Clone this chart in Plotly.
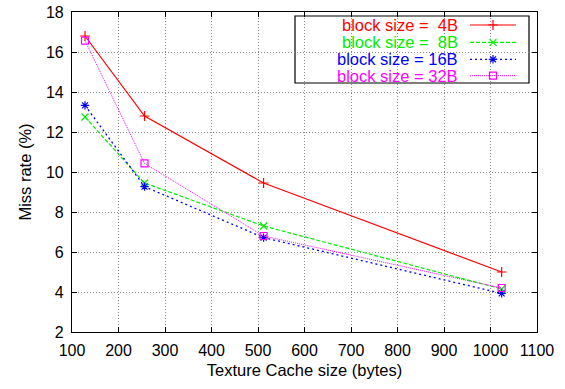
import plotly.graph_objects as go

cache_size = [128, 256, 512, 1024]
miss_4B = [16.8, 12.8, 9.45, 5.0]
miss_8B = [12.75, 9.45, 7.3, 4.15]
miss_16B = [13.33, 9.27, 6.72, 3.93]
miss_32B = [16.57, 10.43, 6.8, 4.2]

labels = ["block size =\u00a0\u00a04B", "block size =\u00a0\u00a08B", "block size = 16B", "block size = 32B"]
colors = ["#ff0000", "#00ee00", "#0000ff", "#ff00ff"]
dashes = ["solid", "4px,2px", "2px,3px", "1px,1px"]
symbols = ["cross-thin-open", "x-thin-open", "asterisk-open", "square-open"]
widths = [1.2, 1.2, 1.3, 1.0]
x_ticks = list(range(100, 1101, 100))
y_ticks = list(range(2, 19, 2))

series = [miss_4B, miss_8B, miss_16B, miss_32B]

W, H = 565, 389
L, R, T, B = 72, 28, 12, 57
pw, ph = W - L - R, H - T - B
FONT = "Liberation Sans, Arial, sans-serif"

def px(x):
    return (x - L) / pw

def py(y):
    return (T + ph - y) / ph

fig = go.Figure()
for s, lab, c, d, sym, w in zip(series, labels, colors, dashes, symbols, widths):
    fig.add_trace(go.Scatter(
        x=cache_size, y=s, mode="lines+markers", name=lab,
        line=dict(color=c, dash=d, width=w),
        marker=dict(symbol=sym, size=7, color=c, line=dict(color=c, width=1.2)),
        showlegend=False,
    ))

# custom gnuplot-style legend
row_y = [25, 42.3, 59.3, 75.7]
shapes = [dict(type="rect", xref="paper", yref="paper",
               x0=px(295), x1=px(529), y0=py(83), y1=py(16),
               line=dict(color="black", width=1.2), fillcolor="white", layer="between")]
annotations = []
for i, (lab, c, d, sym, w) in enumerate(zip(labels, colors, dashes, symbols, widths)):
    yy = py(row_y[i])
    annotations.append(dict(xref="paper", yref="paper", x=px(459), y=yy,
                            text=lab, showarrow=False, xanchor="right", yanchor="middle",
                            borderpad=0,
                            font=dict(color=c, size=16.5, family=FONT)))
    fig.add_trace(go.Scatter(
        x=[px(470), px(516)], y=[yy, yy], xaxis="x2", yaxis="y2", mode="lines",
        line=dict(color=c, dash=d, width=w), showlegend=False, hoverinfo="skip"))
    fig.add_trace(go.Scatter(
        x=[px(493)], y=[yy], xaxis="x2", yaxis="y2", mode="markers",
        marker=dict(symbol=sym, size=7, color=c, line=dict(color=c, width=1.2)),
        showlegend=False, hoverinfo="skip"))

axis_common = dict(
    showline=True, linecolor="black", linewidth=1.2, mirror="allticks",
    ticks="inside", ticklen=5, tickcolor="black", tickwidth=1,
    showgrid=True, gridcolor="#8a8a8a", griddash="1px,2px", gridwidth=1,
    zeroline=False, automargin=False, ticklabeloverflow="allow",
    tickfont=dict(size=16, color="black", family=FONT),
)

fig.update_layout(
    width=W, height=H,
    margin=dict(l=L, r=R, t=T, b=B),
    plot_bgcolor="white", paper_bgcolor="white",
    xaxis=dict(range=[100, 1100], tickvals=x_ticks, ticklabelstandoff=4,
               title=dict(text="Texture Cache size (bytes)", standoff=6,
                          font=dict(size=16.5, color="black", family=FONT)),
               **axis_common),
    yaxis=dict(range=[2, 18], tickvals=y_ticks, ticklabelstandoff=4,
               title=dict(text="Miss rate (%)", standoff=10,
                          font=dict(size=16.5, color="black", family=FONT)),
               **axis_common),
    xaxis2=dict(overlaying="x", range=[0, 1], visible=False),
    yaxis2=dict(overlaying="y", range=[0, 1], visible=False),
    shapes=shapes,
    annotations=annotations,
)

fig.write_html("out.html", config={"displayModeBar": False},
               post_script="document.body.style.margin='0';document.body.style.overflow='hidden';")
